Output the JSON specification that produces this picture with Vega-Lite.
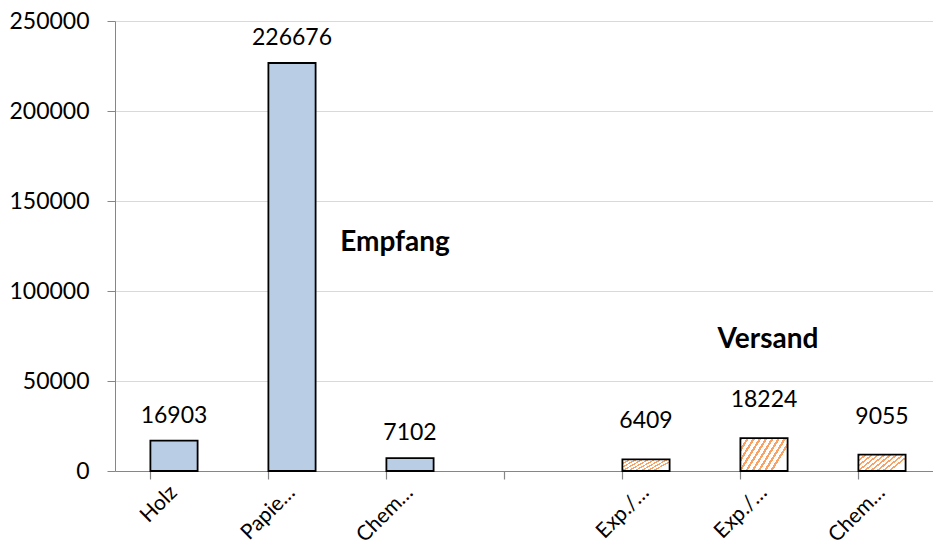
{
  "$schema": "https://vega.github.io/schema/vega-lite/v6.json",
  "width": 826,
  "height": 450,
  "autosize": {"type": "none"},
  "padding": {"left": 115, "top": 21, "right": 0, "bottom": 78},
  "background": "white",
  "config": {"view": {"stroke": null}, "font": "Lato"},
  "datasets": {
    "bars": [
      {"key": "Holz", "value": 16903, "group": "Empfang"},
      {"key": "Papie…", "value": 226676, "group": "Empfang"},
      {"key": "Chem…", "value": 7102, "group": "Empfang"},
      {"key": "Exp./…", "value": 6409, "group": "Versand"},
      {"key": "Exp./… ", "value": 18224, "group": "Versand"},
      {"key": "Chem… ", "value": 9055, "group": "Versand"}
    ],
    "notes": [
      {"key": "Chem…", "value": 126667, "text": "Empfang"},
      {"key": "Exp./… ", "value": 72778, "text": "Versand"}
    ]
  },
  "data": {"name": "bars"},
  "encoding": {
    "y": {
      "field": "value",
      "type": "quantitative",
      "scale": {"domain": [0, 250000], "nice": false, "zero": true},
      "axis": {
        "title": null,
        "values": [0, 50000, 100000, 150000, 200000, 250000],
        "format": "d",
        "labelFont": "Lato",
        "labelFontSize": 23,
        "labelColor": "#000000",
        "labelPadding": 18,
        "tickSize": 8,
        "tickColor": "#868686",
        "domainColor": "#868686",
        "gridColor": "#D9D9D9",
        "gridWidth": 1.2,
        "grid": true
      }
    }
  },
  "layer": [
    {
      "transform": [{"filter": "datum.group === 'Empfang'"}],
      "mark": {"type": "bar", "fill": "#B9CDE5", "stroke": "#000000", "strokeWidth": 1.8},
      "encoding": {
        "x": {
          "field": "key",
          "type": "nominal",
          "scale": {"domain": ["Holz", "Papie…", "Chem…", " ", "Exp./…", "Exp./… ", "Chem… "], "paddingInner": 0.6, "paddingOuter": 0.3},
          "axis": {
            "orient": "bottom",
            "title": null,
            "labelExpr": "trim(datum.label)",
            "labelAngle": -45,
            "labelAlign": "right",
            "labelBaseline": "middle",
            "labelFont": "Lato",
            "labelFontSize": 21,
            "labelColor": "#000000",
            "labelPadding": 18,
            "ticks": false,
            "domain": true,
            "domainColor": "#868686",
            "domainWidth": 1.2,
            "grid": false
          }
        }
      }
    },
    {
      "transform": [{"filter": "datum.group === 'Versand'"}],
      "mark": {
        "type": "bar",
        "stroke": "#000000",
        "strokeWidth": 1.8,
        "fill": {
          "gradient": "linear",
          "x1": 0, "y1": 0, "x2": 1, "y2": 0.43,
          "stops": [
            {"offset": 0, "color": "#F8A265"}, {"offset": 0.045, "color": "#F8A265"}, {"offset": 0.045, "color": "#FFFFFF"}, {"offset": 0.1111, "color": "#FFFFFF"},
            {"offset": 0.1111, "color": "#F8A265"}, {"offset": 0.1561, "color": "#F8A265"}, {"offset": 0.1561, "color": "#FFFFFF"}, {"offset": 0.2222, "color": "#FFFFFF"},
            {"offset": 0.2222, "color": "#F8A265"}, {"offset": 0.2672, "color": "#F8A265"}, {"offset": 0.2672, "color": "#FFFFFF"}, {"offset": 0.3333, "color": "#FFFFFF"},
            {"offset": 0.3333, "color": "#F8A265"}, {"offset": 0.3783, "color": "#F8A265"}, {"offset": 0.3783, "color": "#FFFFFF"}, {"offset": 0.4444, "color": "#FFFFFF"},
            {"offset": 0.4444, "color": "#F8A265"}, {"offset": 0.4894, "color": "#F8A265"}, {"offset": 0.4894, "color": "#FFFFFF"}, {"offset": 0.5556, "color": "#FFFFFF"},
            {"offset": 0.5556, "color": "#F8A265"}, {"offset": 0.6006, "color": "#F8A265"}, {"offset": 0.6006, "color": "#FFFFFF"}, {"offset": 0.6667, "color": "#FFFFFF"},
            {"offset": 0.6667, "color": "#F8A265"}, {"offset": 0.7117, "color": "#F8A265"}, {"offset": 0.7117, "color": "#FFFFFF"}, {"offset": 0.7778, "color": "#FFFFFF"},
            {"offset": 0.7778, "color": "#F8A265"}, {"offset": 0.8228, "color": "#F8A265"}, {"offset": 0.8228, "color": "#FFFFFF"}, {"offset": 0.8889, "color": "#FFFFFF"},
            {"offset": 0.8889, "color": "#F8A265"}, {"offset": 0.9339, "color": "#F8A265"}, {"offset": 0.9339, "color": "#FFFFFF"}, {"offset": 1, "color": "#FFFFFF"}
          ]
        }
      },
      "encoding": {
        "x": {
          "field": "key",
          "type": "nominal",
          "axis": {
            "orient": "bottom",
            "title": null,
            "bandPosition": 0,
            "labels": false,
            "ticks": true,
            "tickSize": 8,
            "tickColor": "#868686",
            "tickWidth": 1.2,
            "domain": false,
            "grid": false
          }
        }
      }
    },
    {
      "transform": [{"filter": "datum.group === 'Empfang'"}],
      "mark": {"type": "text", "font": "Lato", "fontSize": 23, "color": "#000000", "baseline": "alphabetic", "dy": -18},
      "encoding": {
        "x": {"field": "key", "type": "nominal", "axis": null},
        "text": {"field": "value", "type": "quantitative", "format": "d"}
      }
    },
    {
      "transform": [{"filter": "datum.group === 'Versand'"}],
      "mark": {"type": "text", "font": "Lato", "fontSize": 23, "color": "#000000", "baseline": "alphabetic", "dy": -31},
      "encoding": {
        "x": {"field": "key", "type": "nominal", "axis": null},
        "text": {"field": "value", "type": "quantitative", "format": "d"}
      }
    },
    {
      "data": {"name": "notes"},
      "transform": [{"filter": "datum.text === 'Empfang'"}],
      "mark": {"type": "text", "font": "Lato", "fontSize": 28, "fontWeight": "bold", "color": "#000000", "baseline": "middle", "dx": -15},
      "encoding": {
        "x": {"field": "key", "type": "nominal", "axis": null},
        "text": {"field": "text", "type": "nominal"}
      }
    },
    {
      "data": {"name": "notes"},
      "transform": [{"filter": "datum.text === 'Versand'"}],
      "mark": {"type": "text", "font": "Lato", "fontSize": 28, "fontWeight": "bold", "color": "#000000", "baseline": "middle", "dx": 4},
      "encoding": {
        "x": {"field": "key", "type": "nominal", "axis": null},
        "text": {"field": "text", "type": "nominal"}
      }
    }
  ],
  "resolve": {"axis": {"x": "independent"}}
}
